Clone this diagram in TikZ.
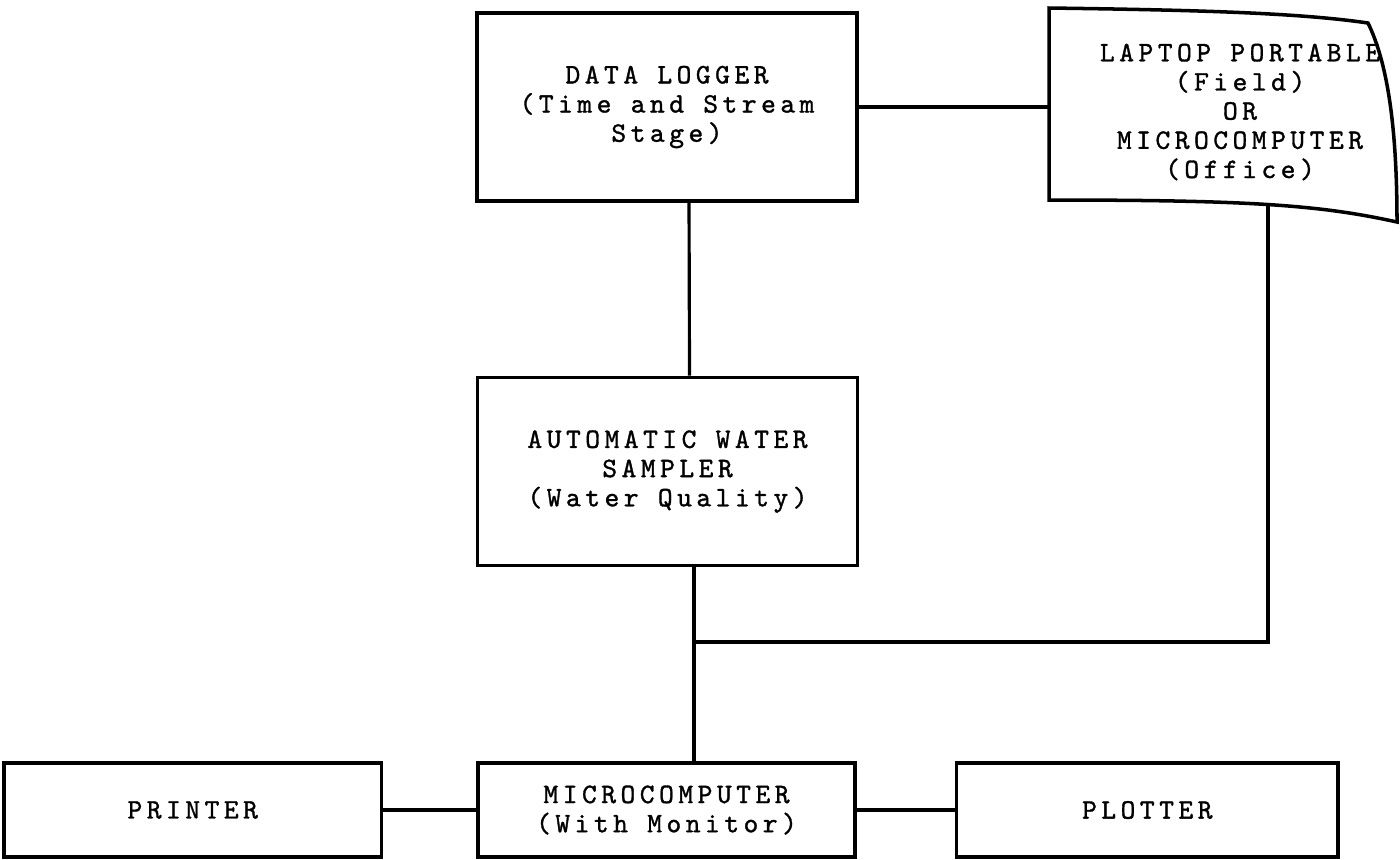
\documentclass[tikz,border=0pt]{standalone}
\usepackage{fontspec}
\usepackage{tikz}
\usetikzlibrary{positioning,calc}
\newfontfamily\typew{lmmono10-regular.otf}[LetterSpace=16,FakeBold=1.2]

\begin{document}
\begin{tikzpicture}[
  x=0.01cm, y=-0.01cm,
  font=\typew\fontsize{8pt}{8.3pt}\selectfont,
  unit/.style={draw, line width=1pt, align=center, inner sep=0pt},
  tall/.style={unit, minimum width=3.8cm, minimum height=1.88cm},
  flat/.style={unit, minimum width=3.77cm, minimum height=0.94cm},
  link/.style={line width=0.9pt},
]
\useasboundingbox (0,0) rectangle (1400,859);
\node[tall] (dl) at (667,107) {DATA LOGGER\\(Time and Stream\\Stage)};
\node[tall] (ws) at (667.5,471.5) {AUTOMATIC WATER\\SAMPLER\\(Water Quality)};
\node[flat] (mc) at (666.5,810) {MICROCOMPUTER\\(With Monitor)};
\node[flat, left=0.93cm of mc] (pr) {PRINTER};
\node[flat, right=0.98cm of mc, minimum width=3.81cm] (pl) {PLOTTER};
\node[align=center, inner sep=0pt, minimum width=3.82cm, minimum height=2cm] (lap) at (1240,112)
  {LAPTOP PORTABLE\\(Field)\\OR\\MICROCOMPUTER\\(Office)};
\draw[line width=1pt] (1049,8) .. controls (1200,10) and (1300,13) .. (1368,23)
  .. controls (1386,60) and (1397,120) .. (1397,222)
  .. controls (1320,205) and (1250,200) .. (1049,200) -- cycle;
\coordinate (jn) at (694,642);
\coordinate (lapfoot) at (1268,205);
\draw[link] (dl.east) -- (dl.east -| lap.west);
\draw[link] ([xshift=0.22cm]dl.south) -- ([xshift=0.22cm]ws.north);
\draw[link] (ws.south -| jn) -- (mc.north -| jn);
\draw[link] (lapfoot) |- (jn);
\draw[link] (pr.east) -- (mc.west);
\draw[link] (mc.east) -- (pl.west);
\end{tikzpicture}
\end{document}
